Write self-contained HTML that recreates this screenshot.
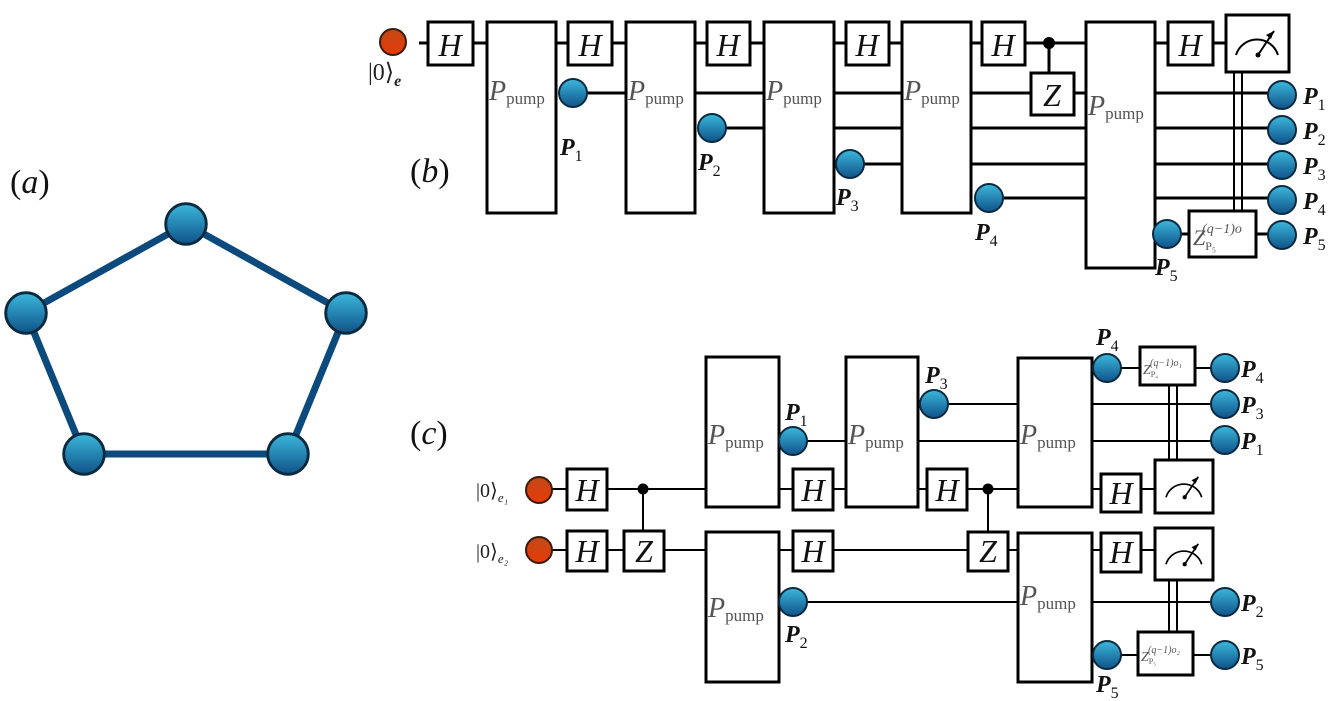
<!DOCTYPE html>
<html><head><meta charset="utf-8"><style>
html,body{margin:0;padding:0;background:#fff;}
svg{display:block;}
.w{stroke:#000;stroke-width:3;fill:none;}
.w2{stroke:#000;stroke-width:2;fill:none;}
.b{fill:#fff;stroke:#000;stroke-width:3;}
.g{font-family:"Liberation Serif",serif;font-style:italic;font-size:32px;fill:#111;text-anchor:middle;}
.pp{font-family:"Liberation Serif",serif;fill:#555;}
.lb{font-family:"Liberation Serif",serif;font-style:italic;font-weight:bold;font-size:24px;fill:#111;}
.sb{font-style:normal;font-weight:normal;font-size:16px;}
.big{font-family:"Liberation Serif",serif;font-size:34px;fill:#111;}
</style></head><body>
<svg width="1329" height="701" viewBox="0 0 1329 701" xmlns="http://www.w3.org/2000/svg">
<defs>
<linearGradient id="bl" x1="0" y1="0" x2="0" y2="1"><stop offset="0" stop-color="#3cb8dc"/><stop offset="1" stop-color="#0f5288"/></linearGradient>
<linearGradient id="or" x1="0" y1="0" x2="0" y2="1"><stop offset="0" stop-color="#c04a18"/><stop offset="1" stop-color="#e83a08"/></linearGradient>
<g id="bc"><circle r="14" fill="url(#bl)" stroke="#0a2a40" stroke-width="2"/></g>
<g id="oc"><circle r="13" fill="url(#or)" stroke="#3a1a08" stroke-width="2"/></g>
<g id="meter"><path d="M-20,12 A22,22 0 0 1 22,12" fill="none" stroke="#000" stroke-width="2"/><line x1="2" y1="12" x2="18" y2="-12" stroke="#000" stroke-width="2"/><polygon points="18,-12 10,-8 15,-4" fill="#000"/><circle cx="2" cy="12" r="2.5" fill="#000"/></g>
</defs>

<!-- (a) -->
<text class="big" x="10" y="193">(<tspan font-style="italic">a</tspan>)</text>
<polygon points="186,224 346,313 288,454 84,454 26,313" fill="none" stroke="#0c4a7e" stroke-width="7" stroke-linejoin="round"/>
<g transform="translate(186,224) scale(1.45)"><use href="#bc"/></g>
<g transform="translate(26,313) scale(1.45)"><use href="#bc"/></g>
<g transform="translate(346,313) scale(1.45)"><use href="#bc"/></g>
<g transform="translate(84,454) scale(1.45)"><use href="#bc"/></g>
<g transform="translate(288,454) scale(1.45)"><use href="#bc"/></g>

<!-- (b) -->
<text class="big" x="410" y="182">(<tspan font-style="italic">b</tspan>)</text>
<text x="368" y="80" font-family="Liberation Serif,serif" font-size="24" fill="#222">|0⟩<tspan font-style="italic" font-size="16" dy="6" font-weight="bold">e</tspan></text>
<line class="w" x1="419" y1="43" x2="1226" y2="43"/>
<line class="w" x1="586" y1="93" x2="1282" y2="93"/>
<line class="w" x1="724" y1="128" x2="1282" y2="128"/>
<line class="w" x1="862" y1="164" x2="1282" y2="164"/>
<line class="w" x1="1001" y1="198" x2="1282" y2="198"/>
<line class="w" x1="1179" y1="234" x2="1282" y2="234"/>
<line class="w" x1="1049" y1="43" x2="1049" y2="73"/>
<circle cx="1049" cy="43" r="6" fill="#000"/>
<line class="w2" x1="1234" y1="72" x2="1234" y2="212"/>
<line class="w2" x1="1242" y1="72" x2="1242" y2="212"/>
<rect class="b" x="428" y="22" width="45" height="43"/><text class="g" x="450" y="56">H</text>
<rect class="b" x="568" y="22" width="44" height="43"/><text class="g" x="590" y="56">H</text>
<rect class="b" x="707" y="22" width="43" height="43"/><text class="g" x="728" y="56">H</text>
<rect class="b" x="846" y="22" width="43" height="43"/><text class="g" x="867" y="56">H</text>
<rect class="b" x="982" y="22" width="43" height="43"/><text class="g" x="1003" y="56">H</text>
<rect class="b" x="1168" y="22" width="45" height="43"/><text class="g" x="1190" y="56">H</text>
<rect class="b" x="1031" y="73" width="43" height="42"/><text class="g" x="1052" y="106">Z</text>
<rect class="b" x="487" y="22" width="69" height="191"/><text class="pp" x="489" y="100"><tspan font-size="28" font-style="italic">P</tspan><tspan font-size="17" dy="4">pump</tspan></text>
<rect class="b" x="626" y="22" width="69" height="191"/><text class="pp" x="628" y="100"><tspan font-size="28" font-style="italic">P</tspan><tspan font-size="17" dy="4">pump</tspan></text>
<rect class="b" x="764" y="22" width="70" height="191"/><text class="pp" x="766" y="100"><tspan font-size="28" font-style="italic">P</tspan><tspan font-size="17" dy="4">pump</tspan></text>
<rect class="b" x="902" y="22" width="69" height="191"/><text class="pp" x="904" y="100"><tspan font-size="28" font-style="italic">P</tspan><tspan font-size="17" dy="4">pump</tspan></text>
<rect class="b" x="1086" y="22" width="69" height="246"/><text class="pp" x="1088" y="115"><tspan font-size="28" font-style="italic">P</tspan><tspan font-size="17" dy="4">pump</tspan></text>
<rect class="b" x="1226" y="15" width="63" height="57"/><g transform="translate(1256,43)"><use href="#meter"/></g>
<rect class="b" x="1189" y="211" width="67" height="46"/>
<text class="pp" x="1193" y="245" font-size="22" font-style="italic">Z<tspan font-size="12" font-style="normal" dy="5">P₅</tspan><tspan font-size="14" dx="-14" dy="-17">(q−1)o</tspan></text>
<use href="#oc" x="393" y="42"/>
<use href="#bc" x="573" y="93"/><use href="#bc" x="712" y="128"/><use href="#bc" x="850" y="164"/><use href="#bc" x="989" y="198"/><use href="#bc" x="1167" y="234"/>
<use href="#bc" x="1282" y="95"/><use href="#bc" x="1282" y="130"/><use href="#bc" x="1282" y="165"/><use href="#bc" x="1282" y="200"/><use href="#bc" x="1282" y="235"/>
<text class="lb" x="560" y="155">P<tspan class="sb" dy="6">1</tspan></text>
<text class="lb" x="698" y="170">P<tspan class="sb" dy="6">2</tspan></text>
<text class="lb" x="836" y="205">P<tspan class="sb" dy="6">3</tspan></text>
<text class="lb" x="975" y="240">P<tspan class="sb" dy="6">4</tspan></text>
<text class="lb" x="1155" y="275">P<tspan class="sb" dy="6">5</tspan></text>
<text class="lb" x="1303" y="104">P<tspan class="sb" dy="6">1</tspan></text>
<text class="lb" x="1303" y="139">P<tspan class="sb" dy="6">2</tspan></text>
<text class="lb" x="1303" y="174">P<tspan class="sb" dy="6">3</tspan></text>
<text class="lb" x="1303" y="209">P<tspan class="sb" dy="6">4</tspan></text>
<text class="lb" x="1303" y="244">P<tspan class="sb" dy="6">5</tspan></text>

<!-- (c) -->
<text class="big" x="410" y="444">(<tspan font-style="italic">c</tspan>)</text>
<text x="476" y="497" font-family="Liberation Serif,serif" font-size="20" fill="#222">|0⟩<tspan font-style="italic" font-size="13" dy="5">e₁</tspan></text>
<text x="476" y="558" font-family="Liberation Serif,serif" font-size="20" fill="#222">|0⟩<tspan font-style="italic" font-size="13" dy="5">e₂</tspan></text>
<line class="w2" x1="540" y1="489" x2="1155" y2="489"/>
<line class="w2" x1="540" y1="550" x2="1155" y2="550"/>
<line class="w2" x1="793" y1="441" x2="1225" y2="441"/>
<line class="w2" x1="934" y1="404" x2="1225" y2="404"/>
<line class="w2" x1="1107" y1="368" x2="1225" y2="368"/>
<line class="w2" x1="793" y1="602" x2="1225" y2="602"/>
<line class="w2" x1="1107" y1="655" x2="1225" y2="655"/>
<line class="w2" x1="643" y1="489" x2="643" y2="531"/>
<line class="w2" x1="988" y1="489" x2="988" y2="532"/>
<circle cx="643" cy="489" r="5.5" fill="#000"/><circle cx="988" cy="489" r="5.5" fill="#000"/>
<line class="w2" x1="1169" y1="385" x2="1169" y2="460"/><line class="w2" x1="1177" y1="385" x2="1177" y2="460"/>
<line class="w2" x1="1169" y1="580" x2="1169" y2="632"/><line class="w2" x1="1177" y1="580" x2="1177" y2="632"/>
<rect class="b" x="567" y="469" width="40" height="41"/><text class="g" x="587" y="501" font-size="28">H</text>
<rect class="b" x="567" y="531" width="40" height="40"/><text class="g" x="587" y="562" font-size="28">H</text>
<rect class="b" x="624" y="531" width="40" height="40"/><text class="g" x="644" y="562" font-size="28">Z</text>
<rect class="b" x="793" y="469" width="40" height="41"/><text class="g" x="813" y="501" font-size="28">H</text>
<rect class="b" x="793" y="531" width="40" height="40"/><text class="g" x="813" y="562" font-size="28">H</text>
<rect class="b" x="927" y="469" width="40" height="41"/><text class="g" x="947" y="501" font-size="28">H</text>
<rect class="b" x="968" y="532" width="40" height="39"/><text class="g" x="988" y="562" font-size="28">Z</text>
<rect class="b" x="1101" y="474" width="40" height="38"/><text class="g" x="1121" y="504" font-size="28">H</text>
<rect class="b" x="1101" y="533" width="40" height="39"/><text class="g" x="1121" y="563" font-size="28">H</text>
<rect class="b" x="706" y="357" width="73" height="150"/><text class="pp" x="708" y="444"><tspan font-size="28" font-style="italic">P</tspan><tspan font-size="17" dy="4">pump</tspan></text>
<rect class="b" x="846" y="357" width="72" height="150"/><text class="pp" x="848" y="444"><tspan font-size="28" font-style="italic">P</tspan><tspan font-size="17" dy="4">pump</tspan></text>
<rect class="b" x="1018" y="358" width="74" height="149"/><text class="pp" x="1020" y="444"><tspan font-size="28" font-style="italic">P</tspan><tspan font-size="17" dy="4">pump</tspan></text>
<rect class="b" x="706" y="532" width="73" height="150"/><text class="pp" x="708" y="617"><tspan font-size="28" font-style="italic">P</tspan><tspan font-size="17" dy="4">pump</tspan></text>
<rect class="b" x="1018" y="533" width="74" height="149"/><text class="pp" x="1020" y="605"><tspan font-size="28" font-style="italic">P</tspan><tspan font-size="17" dy="4">pump</tspan></text>
<rect class="b" x="1155" y="460" width="58" height="53"/><g transform="translate(1183,487) scale(0.85)"><use href="#meter"/></g>
<rect class="b" x="1155" y="528" width="58" height="52"/><g transform="translate(1183,554) scale(0.85)"><use href="#meter"/></g>
<rect class="b" x="1140" y="347" width="55" height="38"/>
<text class="pp" x="1143" y="374" font-size="14" font-style="italic">Z<tspan font-size="8" font-style="normal" dy="3">P₄</tspan><tspan font-size="10" dx="-8" dy="-11">(q−1)o₁</tspan></text>
<rect class="b" x="1138" y="632" width="55" height="43"/>
<text class="pp" x="1141" y="661" font-size="14" font-style="italic">Z<tspan font-size="8" font-style="normal" dy="3">P₅</tspan><tspan font-size="10" dx="-8" dy="-11">(q−1)o₂</tspan></text>
<use href="#oc" x="539" y="490"/><use href="#oc" x="539" y="550"/>
<use href="#bc" x="793" y="441"/><use href="#bc" x="934" y="404"/><use href="#bc" x="793" y="602"/>
<use href="#bc" x="1107" y="368"/><use href="#bc" x="1107" y="655"/>
<use href="#bc" x="1225" y="368"/><use href="#bc" x="1225" y="404"/><use href="#bc" x="1225" y="440"/><use href="#bc" x="1225" y="602"/><use href="#bc" x="1225" y="655"/>
<text class="lb" x="785" y="420">P<tspan class="sb" dy="6">1</tspan></text>
<text class="lb" x="925" y="383">P<tspan class="sb" dy="6">3</tspan></text>
<text class="lb" x="1096" y="345">P<tspan class="sb" dy="6">4</tspan></text>
<text class="lb" x="785" y="642">P<tspan class="sb" dy="6">2</tspan></text>
<text class="lb" x="1096" y="692">P<tspan class="sb" dy="6">5</tspan></text>
<text class="lb" x="1241" y="377">P<tspan class="sb" dy="6">4</tspan></text>
<text class="lb" x="1241" y="413">P<tspan class="sb" dy="6">3</tspan></text>
<text class="lb" x="1241" y="449">P<tspan class="sb" dy="6">1</tspan></text>
<text class="lb" x="1241" y="611">P<tspan class="sb" dy="6">2</tspan></text>
<text class="lb" x="1241" y="664">P<tspan class="sb" dy="6">5</tspan></text>
</svg>
</body></html>
